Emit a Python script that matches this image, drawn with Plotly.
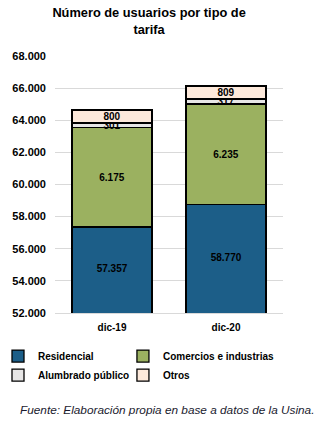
import plotly.graph_objects as go

categories = ["dic-19", "dic-20"]
residencial = [57357, 58770]
comercios = [6175, 6235]
alumbrado = [301, 317]
otros = [800, 809]
series_names = ["Residencial", "Comercios e industrias", "Alumbrado público", "Otros"]
colors = ["#1C5E88", "#9BB160", "#E7E6E6", "#FDE9DB"]
legend_ids = ["legend", "legend2", "legend", "legend2"]
tick_vals = [52000, 54000, 56000, 58000, 60000, 62000, 64000, 66000, 68000]
y_range = [52000, 68000]

FONT = "Liberation Sans"
fig = go.Figure()
for i, (name, vals, col, lg) in enumerate(zip(series_names, [residencial, comercios, alumbrado, otros], colors, legend_ids)):
    fig.add_trace(go.Bar(
        x=categories, y=vals, name=name, legend=lg, legendgroup=name,
        marker=dict(color=col, line=dict(color="black", width=1.3)),
        texttemplate="" if i == 0 else "%{y:,.0f}",
        textposition="inside", insidetextanchor="middle",
        textfont=dict(family=FONT, size=10, color="black", weight="bold"),
        constraintext="none",
    ))

# label for the residencial bars, centred in the visible part of the bar
fig.add_trace(go.Scatter(
    x=categories, y=[(y_range[0] + v) / 2 for v in residencial],
    mode="text", text=[f"{v:,}".replace(",", ".") for v in residencial],
    textfont=dict(family=FONT, size=10, color="black", weight="bold"),
    showlegend=False, hoverinfo="skip",
))

legend_common = dict(orientation="v", yanchor="top", traceorder="normal",
                     tracegroupgap=5, bgcolor="rgba(0,0,0,0)",
                     font=dict(family=FONT, size=10, color="black", weight="bold"))

fig.update_layout(
    barmode="stack",
    bargap=0.3,
    width=322, height=422,
    separators=",.",
    margin=dict(l=55, r=39, t=56, b=109, autoexpand=False),
    paper_bgcolor="white", plot_bgcolor="white",
    uniformtext=dict(minsize=10, mode="show"),
    title=dict(text="<b>Número de usuarios por tipo de<br>tarifa</b>",
               x=0.463, xanchor="center", y=0.96, yanchor="top",
               font=dict(family=FONT, size=12.8, color="black")),
    yaxis=dict(range=y_range, tickvals=tick_vals, tickformat=",.0f",
               showgrid=True, gridcolor="#D9D9D9", gridwidth=1,
               zeroline=False, showline=False, ticks="", ticklabelstandoff=8,
               tickfont=dict(family=FONT, size=11, color="black", weight="bold")),
    xaxis=dict(showline=True, linecolor="#D9D9D9", ticks="", ticklabelstandoff=5,
               tickfont=dict(family=FONT, size=10, color="black", weight="bold")),
    legend=dict(x=-0.25, xanchor="left", y=-0.111, **legend_common),
    legend2=dict(x=0.298, xanchor="left", y=-0.111, **legend_common),
    annotations=[dict(text="<i>Fuente: Elaboración propia en base a datos de la Usina.</i>",
                      xref="paper", yref="paper", x=0.49, xanchor="center",
                      y=-0.377, yanchor="middle", showarrow=False,
                      font=dict(family=FONT, size=11.8, color="#1a1a2e"))],
)
fig.write_html("out.html")
